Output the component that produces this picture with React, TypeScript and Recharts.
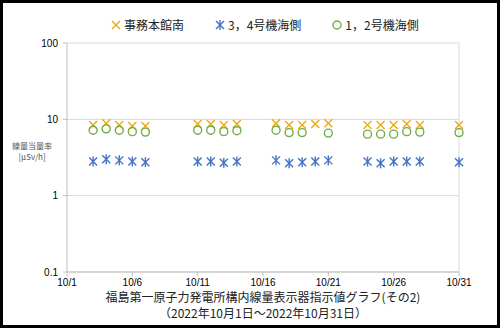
import {
  ScatterChart,
  Scatter,
  XAxis,
  YAxis,
  CartesianGrid,
  ReferenceLine,
} from 'recharts'

// days of October with readings
const days = [3, 4, 5, 6, 7, 11, 12, 13, 14, 17, 18, 19, 20, 21, 24, 25, 26, 27, 28, 31]

// µSv/h
const jimuHonkanMinami = [
  8.4, 8.9, 8.4, 8.2, 8.2, 8.7, 8.7, 8.4, 8.7, 8.9, 8.4, 8.4, 8.7, 8.9, 8.4, 8.4, 8.4, 8.7, 8.4, 8.4,
]
const unit34Umigawa = [
  2.8, 3.0, 2.9, 2.8, 2.75, 2.8, 2.8, 2.7, 2.8, 2.9, 2.65, 2.75, 2.8, 2.9, 2.8, 2.65, 2.8, 2.8, 2.8, 2.75,
]
const unit12Umigawa = [
  7.2, 7.5, 7.2, 6.9, 6.8, 7.2, 7.2, 6.9, 7.1, 7.2, 6.7, 6.7, null, 6.6, 6.4, 6.4, 6.4, 6.9, 6.8, 6.7,
]

const xTicks = [1, 6, 11, 16, 21, 26, 31]
const yTicks = [0.1, 1, 10, 100]

const seriesNames = ['事務本館南', '3，4号機海側', '1，2号機海側']
const titleLines = ['福島第一原子力発電所構内線量表示器指示値グラフ(その2)', '（2022年10月1日～2022年10月31日）']
const yLabelLines = ['線量当量率', '[μSv/h]']

const ORANGE = '#EDAA17'
const BLUE = '#4472C4'
const GREEN = '#70AD47'

const JP_FONT = '"Noto Sans CJK JP", "Liberation Sans", sans-serif'
const NUM_FONT = '"Liberation Sans", Arial, sans-serif'

const toPoints = (values: (number | null)[]) =>
  days.map((d, i) => ({ x: d, y: values[i] })).filter((p) => p.y != null)

function XMark({ cx, cy }: any) {
  return (
    <g stroke={ORANGE} strokeWidth={1.4}>
      <line x1={cx - 4} y1={cy - 4} x2={cx + 4} y2={cy + 4} />
      <line x1={cx - 4} y1={cy + 4} x2={cx + 4} y2={cy - 4} />
    </g>
  )
}

function StarMark({ cx, cy }: any) {
  return (
    <g stroke={BLUE} strokeWidth={1.4}>
      <line x1={cx} y1={cy - 5} x2={cx} y2={cy + 5} />
      <line x1={cx - 4} y1={cy - 4} x2={cx + 4} y2={cy + 4} />
      <line x1={cx - 4} y1={cy + 4} x2={cx + 4} y2={cy - 4} />
    </g>
  )
}

function CircleMark({ cx, cy }: any) {
  return <circle cx={cx} cy={cy} r={4} fill="none" stroke={GREEN} strokeWidth={1.4} />
}

function LegendIcon({ index }: { index: number }) {
  const shapes = [XMark, StarMark, CircleMark]
  const Shape = shapes[index]
  return (
    <svg width={12} height={12} style={{ display: 'block' }}>
      <Shape cx={6} cy={6} />
    </svg>
  )
}

export default function App() {
  return (
    <div
      style={{
        position: 'absolute',
        top: 0,
        left: 0,
        width: 500,
        height: 328,
        background: '#fff',
        fontFamily: JP_FONT,
      }}
    >
      <ScatterChart width={500} height={328} margin={{ top: 43, right: 41, bottom: 26, left: 27 }}>
        <CartesianGrid vertical={false} stroke="#d9d9d9" />
        <XAxis
          type="number"
          dataKey="x"
          domain={[1, 31]}
          ticks={xTicks}
          tickFormatter={(d) => `10/${d}`}
          stroke="#bfbfbf"
          tickSize={4}
          tickMargin={3}
          tick={{ fill: '#000', fontSize: 10, fontFamily: NUM_FONT }}
          height={30}
        />
        <YAxis
          type="number"
          dataKey="y"
          scale="log"
          domain={[0.1, 100]}
          ticks={yTicks}
          allowDataOverflow
          tickFormatter={(v) => String(v)}
          stroke="#bfbfbf"
          tickSize={4}
          tickMargin={5}
          tick={{ fill: '#000', fontSize: 10, fontFamily: NUM_FONT }}
          width={40}
        />
        <ReferenceLine x={31} stroke="#d9d9d9" />
        <Scatter
          name={seriesNames[0]}
          data={toPoints(jimuHonkanMinami)}
          shape={(p: any) => <XMark cx={p.cx} cy={p.cy} />}
          isAnimationActive={false}
        />
        <Scatter
          name={seriesNames[1]}
          data={toPoints(unit34Umigawa)}
          shape={(p: any) => <StarMark cx={p.cx} cy={p.cy} />}
          isAnimationActive={false}
        />
        <Scatter
          name={seriesNames[2]}
          data={toPoints(unit12Umigawa)}
          shape={(p: any) => <CircleMark cx={p.cx} cy={p.cy} />}
          isAnimationActive={false}
        />
      </ScatterChart>

      {/* legend */}
      <div
        style={{
          position: 'absolute',
          top: 17,
          left: 110,
          display: 'flex',
          gap: 30,
          fontSize: 12,
          lineHeight: '16px',
          color: '#222',
        }}
      >
        {seriesNames.map((name, i) => (
          <div key={name} style={{ display: 'flex', alignItems: 'center', gap: 2 }}>
            <LegendIcon index={i} />
            <span>{name}</span>
          </div>
        ))}
      </div>

      {/* y axis label */}
      <div
        style={{
          position: 'absolute',
          top: 140,
          left: 10,
          width: 44,
          textAlign: 'center',
          fontSize: 8,
          lineHeight: '11px',
          color: '#555',
        }}
      >
        {yLabelLines.map((l) => (
          <div key={l}>{l}</div>
        ))}
      </div>

      {/* title */}
      <div
        style={{
          position: 'absolute',
          top: 289,
          left: 67,
          width: 392,
          textAlign: 'center',
          fontSize: 12,
          lineHeight: '16px',
          color: '#222',
        }}
      >
        {titleLines.map((l) => (
          <div key={l}>{l}</div>
        ))}
      </div>

      {/* frame */}
      <div
        style={{
          position: 'absolute',
          inset: 0,
          border: '3px solid #000',
          boxSizing: 'border-box',
          pointerEvents: 'none',
        }}
      />
    </div>
  )
}
